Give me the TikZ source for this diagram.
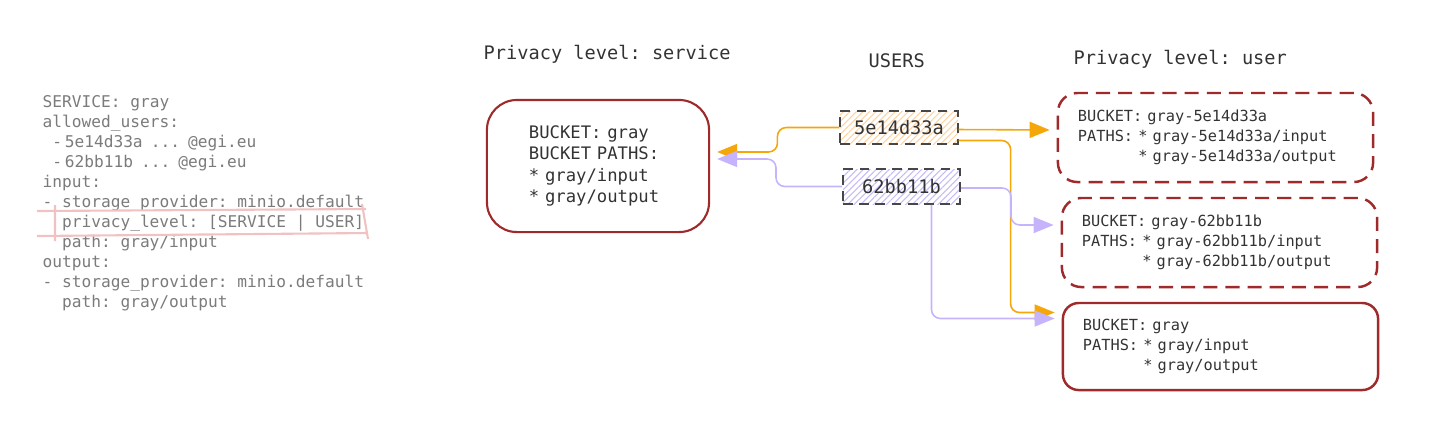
\documentclass[tikz,border=0pt]{standalone}
\usepackage{fontspec}
\setmainfont{DejaVu Sans Mono}
\usepackage{xcolor}
\usepackage{tikz}
\usetikzlibrary{
  arrows.meta,
  patterns.meta}

\definecolor{bucketred}{HTML}{9E2A2B}
\definecolor{userorange}{HTML}{F5A70A}
\definecolor{userpurple}{HTML}{C5B4FC}
\definecolor{hatchorange}{HTML}{FFD2A0}
\definecolor{hatchpurple}{HTML}{C8B9F7}
\definecolor{codegray}{HTML}{7B7B7B}
\definecolor{inkgray}{HTML}{333333}
\definecolor{markpink}{HTML}{F0C2C2}

\begin{document}
\frenchspacing
\begin{tikzpicture}[x=0.01cm, y=-0.01cm,
  code/.style={font=\fontsize{4.6}{5.7}\selectfont, text=codegray, anchor=base west, inner sep=0},
  heading/.style={font=\fontsize{5.3}{6.4}\selectfont, text=inkgray, anchor=mid west, inner sep=0},
  svcbucket/.style={draw=bucketred, line width=0.6pt, rounded corners=8.5pt,
    minimum height=1.32cm, text width=1.38cm, inner xsep=0.42cm, inner ysep=0,
    align=left, font=\fontsize{4.9}{6.1}\selectfont, text=inkgray},
  userbucket/.style={draw=bucketred, line width=0.7pt, rounded corners=5.5pt,
    minimum height=0.89cm, text width=2.75cm, inner xsep=0.2cm, inner ysep=0,
    align=left, font=\fontsize{4.35}{5.7}\selectfont, text=inkgray},
  userid/.style={draw=inkgray!90, line width=0.55pt, dash pattern=on 2.8pt off 1.8pt,
    pattern={Lines[angle=45, distance=1.3pt, line width=0.3pt]},
    font=\fontsize{5.3}{6.4}\selectfont, text=inkgray, inner sep=0},
  link/.style={line width=0.45pt, rounded corners=2.5pt, shorten >=2pt,
    -{Triangle[length=0.2cm, width=0.16cm]}},
]
\useasboundingbox (0,0) rectangle (1436,438);

\foreach[count=\k] \ind/\txt in {0/{SERVICE: gray}, 0/{allowed\_users:},
    1/{-\,5e14d33a\enspace...\enspace@egi.eu}, 1/{-\,62bb11b\enspace...\enspace@egi.eu}, 0/{input:},
    0/{- storage\_provider: minio.default}, 2/{privacy\_level: [SERVICE | USER]},
    2/{path: gray/input}, 0/{output:}, 0/{- storage\_provider: minio.default},
    2/{path: gray/output}} {
  \node[code] (code\k) at (42+9.7*\ind, 87+20*\k) {\txt};
}
\draw[markpink, line width=0.6pt] (37,211) -- (366,209) (37,236) -- (368,233)
  (55,205) -- (55,241) (362,204) -- (368,239);

\node[heading] (svchead) at (483,50) {Privacy level: service};
\node[heading] (usershead) at (868,58) {USERS};
\node[heading] (userhead) at (1073,55) {Privacy level: user};

\node[svcbucket] (svc) at (598,166) {BUCKET: gray\\BUCKET PATHS:\\{}* gray/input\\{}* gray/output};

\node[userid, pattern color=hatchorange, minimum width=1.18cm, minimum height=0.33cm] (uA) at (899,127.5) {5e14d33a};
\node[userid, pattern color=hatchpurple, minimum width=1.17cm, minimum height=0.35cm] (uB) at (901.5,186.5) {62bb11b};

\node[userbucket, dash pattern=on 4pt off 2.3pt] (bktA) at (1215.5,137.5)
  {BUCKET: gray-5e14d33a\\PATHS: * gray-5e14d33a/input\\\hphantom{PATHS: }* gray-5e14d33a/output};
\node[userbucket, dash pattern=on 4pt off 2.3pt] (bktB) at (1219.5,242.5)
  {BUCKET: gray-62bb11b\\PATHS: * gray-62bb11b/input\\\hphantom{PATHS: }* gray-62bb11b/output};
\node[userbucket, minimum height=0.87cm, rounded corners=4.5pt] (bktS) at (1220.5,346.5)
  {BUCKET: gray\\PATHS: * gray/input\\\hphantom{PATHS: }* gray/output};

\draw[link, userorange] (uA.west) -- ++(-62,0) |- ([yshift=0.14cm]svc.east);
\draw[link, userpurple] (uB.west) -- ++(-66,0) |- ([yshift=0.07cm]svc.east);
\draw[link, userorange] ([yshift=-0.02cm]uA.east) -- ([yshift=0.075cm]bktA.west);
\draw[link, userorange] ([yshift=-0.13cm]uA.east) -- ++(52,0) |- ([yshift=0.34cm]bktS.west);
\draw[link, userpurple] ([yshift=-0.015cm]uB.east) -- ++(50,0) |- ([yshift=0.175cm]bktB.west);
\draw[link, userpurple] ([xshift=0.3cm]uB.south) |- ([yshift=0.28cm]bktS.west);

\end{tikzpicture}
\end{document}
